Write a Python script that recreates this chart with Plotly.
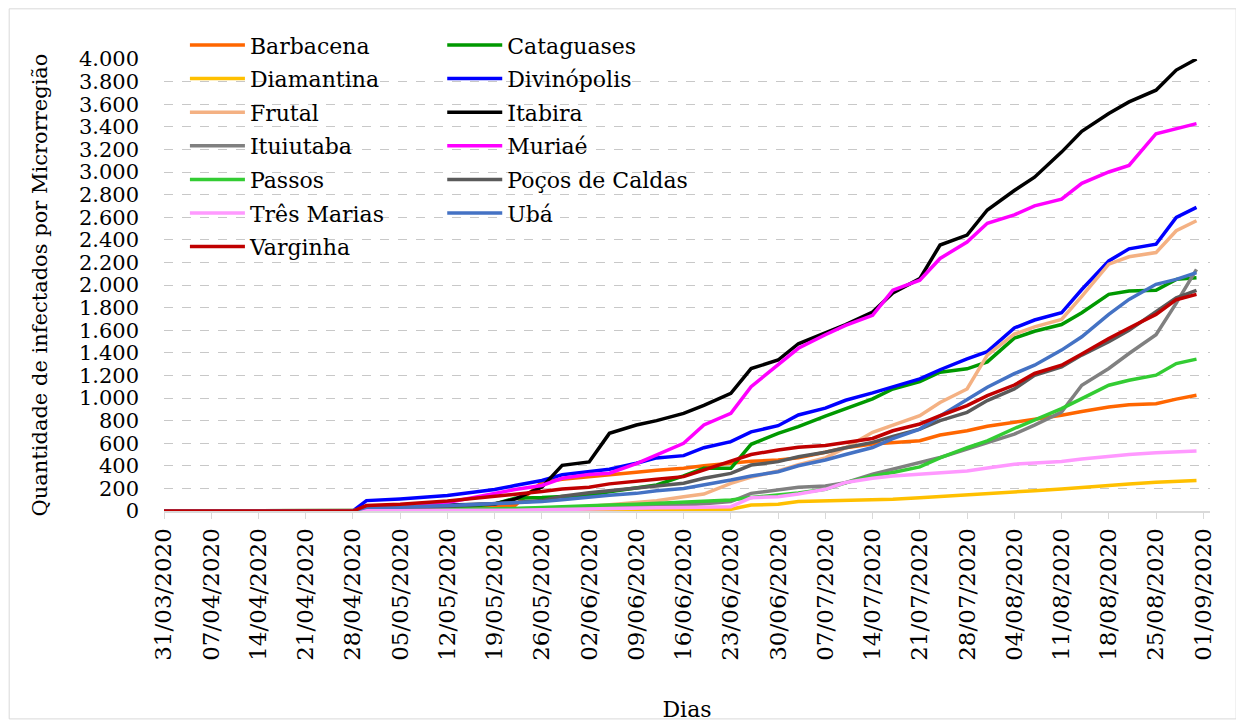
import plotly.graph_objects as go

dates = ["2020-03-31", "2020-04-07", "2020-04-14", "2020-04-21", "2020-04-28",
         "2020-04-30", "2020-05-05", "2020-05-12", "2020-05-19", "2020-05-22",
         "2020-05-26", "2020-05-29", "2020-06-02", "2020-06-05", "2020-06-09",
         "2020-06-12", "2020-06-16", "2020-06-19", "2020-06-23", "2020-06-26",
         "2020-06-30", "2020-07-03", "2020-07-07", "2020-07-10", "2020-07-14",
         "2020-07-17", "2020-07-21", "2020-07-24", "2020-07-28", "2020-07-31",
         "2020-08-04", "2020-08-07", "2020-08-11", "2020-08-14", "2020-08-18",
         "2020-08-21", "2020-08-25", "2020-08-28", "2020-08-31"]

barbacena = [0, 0, 0, 0, 0, 15, 20, 30, 40, 48, 255, 280, 300, 320, 342, 360, 378, 400, 422, 440,
             451, 470, 520, 560, 592, 607, 622, 672, 710, 750, 784, 810, 847, 880, 920, 940, 950, 990, 1024]
cataguases = [0, 0, 0, 0, 0, 5, 10, 25, 62, 113, 119, 125, 140, 170, 200, 230, 310, 378, 378, 590,
              687, 746, 840, 903, 992, 1080, 1146, 1228, 1258, 1320, 1530, 1591, 1650, 1754, 1917, 1947, 1953, 2050, 2065]
diamantina = [0, 0, 0, 0, 0, 0, 0, 0, 2, 3, 3, 4, 5, 6, 8, 10, 12, 14, 15, 53,
              59, 85, 89, 92, 95, 105, 118, 128, 139, 150, 170, 180, 195, 210, 225, 240, 255, 265, 269]
divinopolis = [0, 0, 0, 0, 0, 92, 107, 137, 190, 225, 270, 320, 348, 370, 422, 470, 490, 560, 614, 700,
               755, 850, 910, 980, 1045, 1100, 1169, 1250, 1347, 1410, 1620, 1690, 1754, 1960, 2213, 2320, 2361, 2598, 2687]
frutal = [0, 0, 0, 0, 0, 0, 0, 2, 5, 8, 10, 20, 40, 55, 70, 90, 127, 150, 245, 300,
          354, 410, 470, 560, 696, 760, 844, 960, 1080, 1380, 1565, 1630, 1695, 1900, 2184, 2250, 2287, 2480, 2569]
itabira = [0, 0, 0, 0, 0, 25, 30, 53, 62, 105, 211, 404, 434, 687, 761, 800, 864, 935, 1041, 1260,
           1336, 1480, 1575, 1650, 1761, 1930, 2057, 2354, 2442, 2664, 2836, 2954, 3176, 3360, 3517, 3620, 3724, 3902, 4000]
ituiutaba = [0, 0, 0, 0, 0, 3, 3, 10, 15, 20, 25, 30, 38, 42, 45, 50, 53, 65, 83, 156,
             186, 210, 222, 250, 326, 370, 429, 474, 548, 607, 680, 760, 876, 1113, 1261, 1394, 1560, 1840, 2139]
muriae = [0, 0, 0, 0, 0, 10, 25, 75, 152, 190, 226, 290, 324, 335, 420, 500, 599, 761, 864, 1100,
          1292, 1440, 1560, 1643, 1732, 1954, 2042, 2235, 2380, 2546, 2620, 2700, 2760, 2900, 3000, 3058, 3339, 3384, 3428]
passos = [0, 0, 0, 0, 0, 2, 5, 10, 15, 22, 30, 38, 45, 52, 59, 68, 77, 88, 97, 120,
          142, 160, 192, 250, 311, 340, 390, 470, 560, 620, 730, 802, 906, 995, 1113, 1157, 1202, 1305, 1344]
pocos = [0, 0, 0, 0, 0, 10, 20, 42, 62, 75, 92, 130, 162, 180, 200, 220, 245, 290, 333, 407,
         437, 480, 520, 560, 607, 660, 725, 800, 873, 977, 1080, 1200, 1276, 1380, 1498, 1600, 1769, 1887, 1953]
tres_marias = [0, 0, 0, 0, 0, 0, 0, 2, 5, 7, 10, 14, 18, 22, 25, 28, 30, 34, 38, 118,
               127, 150, 192, 252, 290, 310, 326, 340, 355, 380, 414, 425, 438, 460, 485, 500, 515, 525, 530]
uba = [0, 0, 0, 0, 0, 33, 33, 48, 62, 70, 83, 100, 127, 140, 156, 180, 200, 230, 274, 310,
       348, 400, 451, 500, 562, 640, 725, 840, 990, 1095, 1215, 1290, 1424, 1542, 1740, 1873, 2006, 2050, 2110]
varginha = [0, 0, 0, 0, 0, 48, 59, 89, 128, 150, 172, 195, 211, 240, 260, 280, 304, 363, 440, 500,
            540, 565, 580, 607, 642, 710, 770, 843, 932, 1021, 1115, 1217, 1290, 1390, 1527, 1620, 1740, 1870, 1917]

series = [
    ("Barbacena", barbacena, "#FF6600"),
    ("Cataguases", cataguases, "#009900"),
    ("Diamantina", diamantina, "#FFC000"),
    ("Divinópolis", divinopolis, "#0000FF"),
    ("Frutal", frutal, "#F4B183"),
    ("Itabira", itabira, "#000000"),
    ("Ituiutaba", ituiutaba, "#808080"),
    ("Muriaé", muriae, "#FF00FF"),
    ("Passos", passos, "#33CC33"),
    ("Poços de Caldas", pocos, "#5A5A5A"),
    ("Três Marias", tres_marias, "#FF99FF"),
    ("Ubá", uba, "#4472C4"),
    ("Varginha", varginha, "#C00000"),
]

FONT = "DejaVu Serif"

fig = go.Figure()
for i, (name, vals, color) in enumerate(series):
    # legend is two columns, filled row by row -> alternate between two legends
    fig.add_trace(go.Scatter(
        x=dates, y=vals, name=name, mode="lines",
        line=dict(color=color, width=3.5),
        legend="legend2" if i % 2 else "legend",
        legendgroup=name,
    ))

legend_common = dict(
    bgcolor="rgba(0,0,0,0)", font=dict(family=FONT, size=22, color="black"),
    yanchor="top", xanchor="left", y=1.077, itemwidth=55, tracegroupgap=2,
)

# the page body has an 8px margin, so the figure is 8px smaller than the window
fig.update_layout(
    width=1236, height=716,
    margin=dict(l=156, r=34, t=51, b=213),
    paper_bgcolor="white", plot_bgcolor="white",
    separators=",.",
    font=dict(family=FONT, size=22, color="black"),
    legend=dict(x=0.020, **legend_common),
    legend2=dict(x=0.266, **legend_common),
    xaxis=dict(
        type="date", range=["2020-03-31", "2020-09-02"],
        tick0="2020-03-31", dtick=7 * 86400000, tickformat="%d/%m/%Y",
        tickangle=-90, ticks="outside", ticklen=6, tickcolor="#D9D9D9",
        showline=True, linecolor="#D9D9D9", linewidth=2,
        showgrid=False, zeroline=False, automargin=False,
        tickfont=dict(family=FONT, size=23),
        title=dict(text="Dias", standoff=42, font=dict(family=FONT, size=22)),
    ),
    yaxis=dict(
        range=[0, 4000], dtick=200, tickformat=",d",
        showgrid=True, gridcolor="#C8C8C8", griddash="dash", gridwidth=1,
        zeroline=False, showline=False, ticks="", ticklabelstandoff=24,
        automargin=False,
        tickfont=dict(family=FONT, size=21),
        title=dict(text="Quantidade de infectados por Microrregião", standoff=25,
                   font=dict(family=FONT, size=21)),
    ),
    shapes=[dict(type="rect", xref="paper", yref="paper",
                 x0=-0.148, x1=1.025, y0=-0.46, y1=1.111,
                 line=dict(color="#D9D9D9", width=1), layer="below")],
)

fig.write_html("out.html")
